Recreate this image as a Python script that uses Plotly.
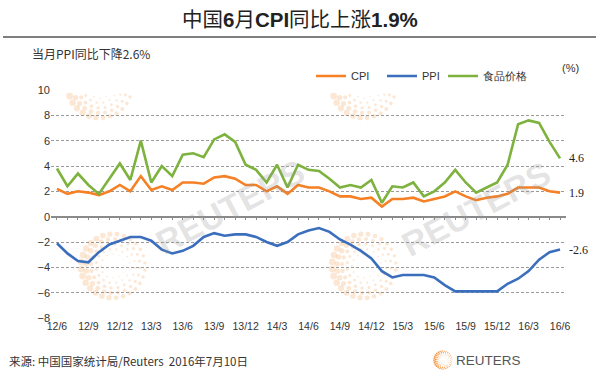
import math
import plotly.graph_objects as go

# ---------------- data ----------------
months = [
    "12/6", "12/7", "12/8", "12/9", "12/10", "12/11", "12/12",
    "13/1", "13/2", "13/3", "13/4", "13/5", "13/6", "13/7", "13/8", "13/9", "13/10", "13/11", "13/12",
    "14/1", "14/2", "14/3", "14/4", "14/5", "14/6", "14/7", "14/8", "14/9", "14/10", "14/11", "14/12",
    "15/1", "15/2", "15/3", "15/4", "15/5", "15/6", "15/7", "15/8", "15/9", "15/10", "15/11", "15/12",
    "16/1", "16/2", "16/3", "16/4", "16/5", "16/6",
]
cpi = [
    2.2, 1.8, 2.0, 1.9, 1.7, 2.0, 2.5,
    2.0, 3.2, 2.1, 2.4, 2.1, 2.7, 2.7, 2.6, 3.1, 3.2, 3.0, 2.5,
    2.5, 2.0, 2.4, 1.8, 2.5, 2.3, 2.3, 2.0, 1.6, 1.6, 1.4, 1.5,
    0.8, 1.4, 1.4, 1.5, 1.2, 1.4, 1.6, 2.0, 1.6, 1.3, 1.5, 1.6,
    1.8, 2.3, 2.3, 2.3, 2.0, 1.9,
]
ppi = [
    -2.1, -2.9, -3.5, -3.6, -2.8, -2.2, -1.9,
    -1.6, -1.6, -1.9, -2.6, -2.9, -2.7, -2.3, -1.6, -1.3, -1.5, -1.4, -1.4,
    -1.6, -2.0, -2.3, -2.0, -1.4, -1.1, -0.9, -1.2, -1.8, -2.2, -2.7, -3.3,
    -4.3, -4.8, -4.6, -4.6, -4.6, -4.8, -5.4, -5.9, -5.9, -5.9, -5.9, -5.9,
    -5.3, -4.9, -4.3, -3.4, -2.8, -2.6,
]
food = [
    3.8, 2.4, 3.4, 2.5, 1.8, 3.0, 4.2,
    2.9, 6.0, 2.7, 4.0, 3.2, 4.9, 5.0, 4.7, 6.1, 6.5, 5.9, 4.1,
    3.7, 2.7, 4.1, 2.3, 4.1, 3.7, 3.6, 3.0, 2.3, 2.5, 2.3, 2.9,
    1.1, 2.4, 2.3, 2.7, 1.6, 2.0, 2.7, 3.7, 2.7, 1.9, 2.3, 2.7,
    4.1, 7.3, 7.6, 7.4, 5.9, 4.6,
]
series_names = ["CPI", "PPI", "食品价格"]
y_ticks = [10, 8, 6, 4, 2, 0, -2, -4, -6, -8]

# ---------------- layout constants ----------------
W, H = 599, 380
L, R, T, B = 51, 33, 90, 62
CJK = "Noto Sans CJK SC"
LAT = "Liberation Sans"
C_CPI, C_PPI, C_FOOD = "#F58025", "#3B6EBD", "#7DB23E"


def px2x(px):
    return (px - L) / (W - L - R)


def py2y(py):
    return (H - B - py) / (H - T - B)


idx = list(range(len(months)))
xr = [-0.57, len(months) - 1 + 0.57]
yr = [-8, 10]

fig = go.Figure()
for name, vals, col, lg in zip(series_names, [cpi, ppi, food], [C_CPI, C_PPI, C_FOOD],
                               ["legend", "legend", "legend2"]):
    fig.add_trace(go.Scatter(x=idx, y=vals, mode="lines", name=name, legend=lg,
                             line=dict(color=col, width=2.6), hoverinfo="skip"))

# dummy trace for the tick-only zero axis
fig.add_trace(go.Scatter(x=[None], y=[None], xaxis="x2", yaxis="y",
                         showlegend=False, hoverinfo="skip"))

# end labels
for vals, txt in [(food, "4.6"), (cpi, "1.9"), (ppi, "-2.6")]:
    fig.add_annotation(x=idx[-1], y=vals[-1], xref="x", yref="y", text=txt,
                       showarrow=False, xanchor="left", yanchor="middle", xshift=7,
                       font=dict(family="Liberation Serif", size=12, color="#222"))

shapes = []
# rule under title
shapes.append(dict(type="line", xref="paper", yref="paper", x0=px2x(3), x1=px2x(596),
                   y0=py2y(37), y1=py2y(37), line=dict(color="#555", width=1.5)))


# faint Reuters dot-ring watermarks (decoration)
def ring(cx, cy, scale=1.0, ymin=None, color="rgba(245,170,100,0.28)"):
    out = []
    radii = [12, 17, 22, 27, 32]
    counts = [12, 16, 20, 24, 28]
    for k, (rr, n) in enumerate(zip(radii, counts)):
        for j in range(n):
            th = 2 * math.pi * j / n + k * 0.2
            x = cx + rr * scale * math.cos(th)
            y = cy + rr * scale * math.sin(th)
            if ymin is not None and y - 2 < ymin:
                continue
            s = (0.8 + 0.5 * k) * (0.6 + 0.6 * (1 - math.cos(th)) / 2) * scale
            out.append(dict(type="circle", xref="paper", yref="paper", layer="below",
                            x0=px2x(x - s), x1=px2x(x + s), y0=py2y(y + s), y1=py2y(y - s),
                            fillcolor=color, line=dict(width=0)))
    return out


shapes += ring(113, 266)
shapes += ring(364, 266)
shapes += ring(100, 86, ymin=91)
shapes += ring(364, 86, ymin=91)
# footer logo
shapes += ring(443, 360, scale=0.28, color="rgba(245,140,50,0.9)")

annots = [
    dict(text="当月PPI同比下降2.6%", x=px2x(30), y=py2y(53), xanchor="left", yanchor="middle",
         font=dict(family=CJK, size=12, color="#333")),
    dict(text="(%)", x=px2x(570), y=py2y(68), xanchor="center", yanchor="middle",
         font=dict(family=LAT, size=11, color="#333")),
    dict(text="来源: 中国国家统计局/Reuters  2016年7月10日", x=px2x(7), y=py2y(361),
         xanchor="left", yanchor="middle", font=dict(family=CJK, size=11.5, color="#333")),
    dict(text="REUTERS", x=px2x(454), y=py2y(360), xanchor="left", yanchor="middle",
         font=dict(family="Liberation Sans Narrow, Liberation Sans", size=13.5, color="#555")),
    dict(text="<b>REUTERS</b>", x=px2x(230), y=py2y(207), xanchor="center", yanchor="middle",
         textangle=-28, font=dict(family=LAT, size=34, color="rgba(150,150,150,0.26)")),
    dict(text="<b>REUTERS</b>", x=px2x(476), y=py2y(209), xanchor="center", yanchor="middle",
         textangle=-28, font=dict(family=LAT, size=34, color="rgba(150,150,150,0.26)")),
    dict(text="中国<span style='font-family:Liberation Sans'><b>6</b></span>月"
              "<span style='font-family:Liberation Sans'><b>CPI</b></span>同比上涨"
              "<span style='font-family:Liberation Sans'><b>1.9%</b></span>",
         x=px2x(299.5), y=py2y(18), xanchor="center", yanchor="middle",
         font=dict(family=CJK, size=20.5, color="#222")),
]
for a in annots:
    a.update(xref="paper", yref="paper", showarrow=False)
    fig.add_annotation(**a)

leg_common = dict(orientation="h", yanchor="middle", xanchor="left",
                  font=dict(family=LAT, size=11, color="#333"), bgcolor="rgba(0,0,0,0)",
                  itemwidth=30, traceorder="normal", borderwidth=0)

fig.update_layout(
    width=W, height=H,
    margin=dict(l=L, r=R, t=T, b=B, pad=0),
    paper_bgcolor="white", plot_bgcolor="white",
    showlegend=True,
    legend=dict(x=px2x(311), y=py2y(76), entrywidth=26, entrywidthmode="pixels", **leg_common),
    legend2=dict(x=px2x(443), y=py2y(76), **leg_common),
    xaxis=dict(range=xr, tickmode="array", tickvals=idx[::3], ticktext=months[::3],
               tickangle=0, showgrid=False, zeroline=False, showline=False, ticks="",
               tickfont=dict(family=LAT, size=10.5, color="#333")),
    xaxis2=dict(range=xr, overlaying="x", anchor="free", position=(0 - yr[0]) / (yr[1] - yr[0]),
                side="bottom", showline=True, linecolor="#8a8a8a", linewidth=1.5,
                ticks="outside", ticklen=3, tickcolor="#8a8a8a", tickwidth=1,
                tickmode="array", tickvals=idx, showticklabels=False, showgrid=False,
                zeroline=False),
    yaxis=dict(range=yr, tickmode="array", tickvals=y_ticks, showgrid=True,
               gridcolor="#9a9a9a", gridwidth=1, griddash="3px,2px",
               zeroline=False, showline=False, ticks="",
               tickfont=dict(family=LAT, size=11, color="#333")),
    shapes=shapes,
)

fig.write_html("out.html", config={"displayModeBar": False},
               post_script="document.body.style.margin='0';")
